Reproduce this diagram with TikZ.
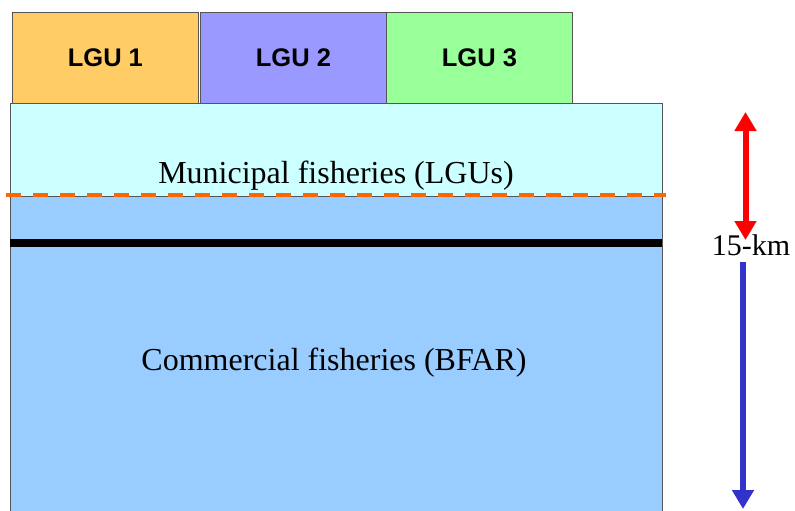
\documentclass[tikz,border=0pt]{standalone}
\usepackage{fontspec}
\setmainfont{Liberation Serif}
\newfontfamily\arialb{Liberation Sans}
\usetikzlibrary{arrows.meta}
\definecolor{lguA}{HTML}{FFCC66}
\definecolor{lguB}{HTML}{9999FF}
\definecolor{lguC}{HTML}{99FF99}
\definecolor{muni}{HTML}{CCFFFF}
\definecolor{comm}{HTML}{99CCFF}
\definecolor{dashor}{HTML}{FF6600}
\definecolor{redarr}{HTML}{FF0000}
\definecolor{bluearr}{HTML}{3333CC}
\definecolor{edge}{HTML}{555555}
\tikzset{
  lgubox/.style={draw=edge, line width=0.8pt, minimum width=186pt, minimum height=91pt, inner sep=0pt, anchor=north west, font=\arialb\bfseries\fontsize{25.5}{30}\selectfont},
  zonelabel/.style={font=\fontsize{32}{38}\selectfont, inner sep=0pt},
  arrowhead/.style={Triangle[width=21pt,length=19pt]},
}
\begin{document}
\begin{tikzpicture}[x=1pt,y=-1pt]
\useasboundingbox (0,0) rectangle (795,511);
% zones
\fill[comm] (10,196) rectangle (662,511);
\draw[edge, line width=0.8pt] (10,511) -- (10,196) (662,196) -- (662,511);
\node[draw=edge, line width=0.8pt, fill=muni, minimum width=652pt, minimum height=93pt, inner sep=0pt, anchor=north west] (muni) at (10,103) {};
% LGU boxes
\node[lgubox, fill=lguA] (l1) at (12,12) {LGU 1};
\node[lgubox, fill=lguB] (l2) at (200,12) {LGU 2};
\node[lgubox, fill=lguC] (l3) at (386,12) {LGU 3};
% lines
\coordinate (dl) at (6,195);
\coordinate (dr) at (666,195);
\draw[dashor, line width=3.5pt, dash pattern=on 15pt off 12pt] (dl) -- (dr);
\coordinate (bl) at (10,243);
\coordinate (br) at (662,243);
\draw[black, line width=8pt] (bl) -- (br);
% labels
\node[zonelabel, anchor=base] (mtxt) at (336,183) {Municipal fisheries (LGUs)};
\node[zonelabel, anchor=base] (ctxt) at (334,370) {Commercial fisheries (BFAR)};
% arrows
\node[font=\fontsize{30}{36}\selectfont, inner sep=0pt, anchor=base] (km) at (751,255) {15-km};
\coordinate (rt) at (745.5,112);
\coordinate (rb) at (745.5,240);
\draw[redarr, line width=6pt, {Triangle[width=21pt,length=19pt]}-{Triangle[width=21pt,length=19pt]}] (rt) -- (rb);
\coordinate (bt) at (743,262);
\coordinate (bb) at (743,509);
\draw[bluearr, line width=6pt, -{Triangle[width=21pt,length=19pt]}] (bt) -- (bb);
\end{tikzpicture}
\end{document}
